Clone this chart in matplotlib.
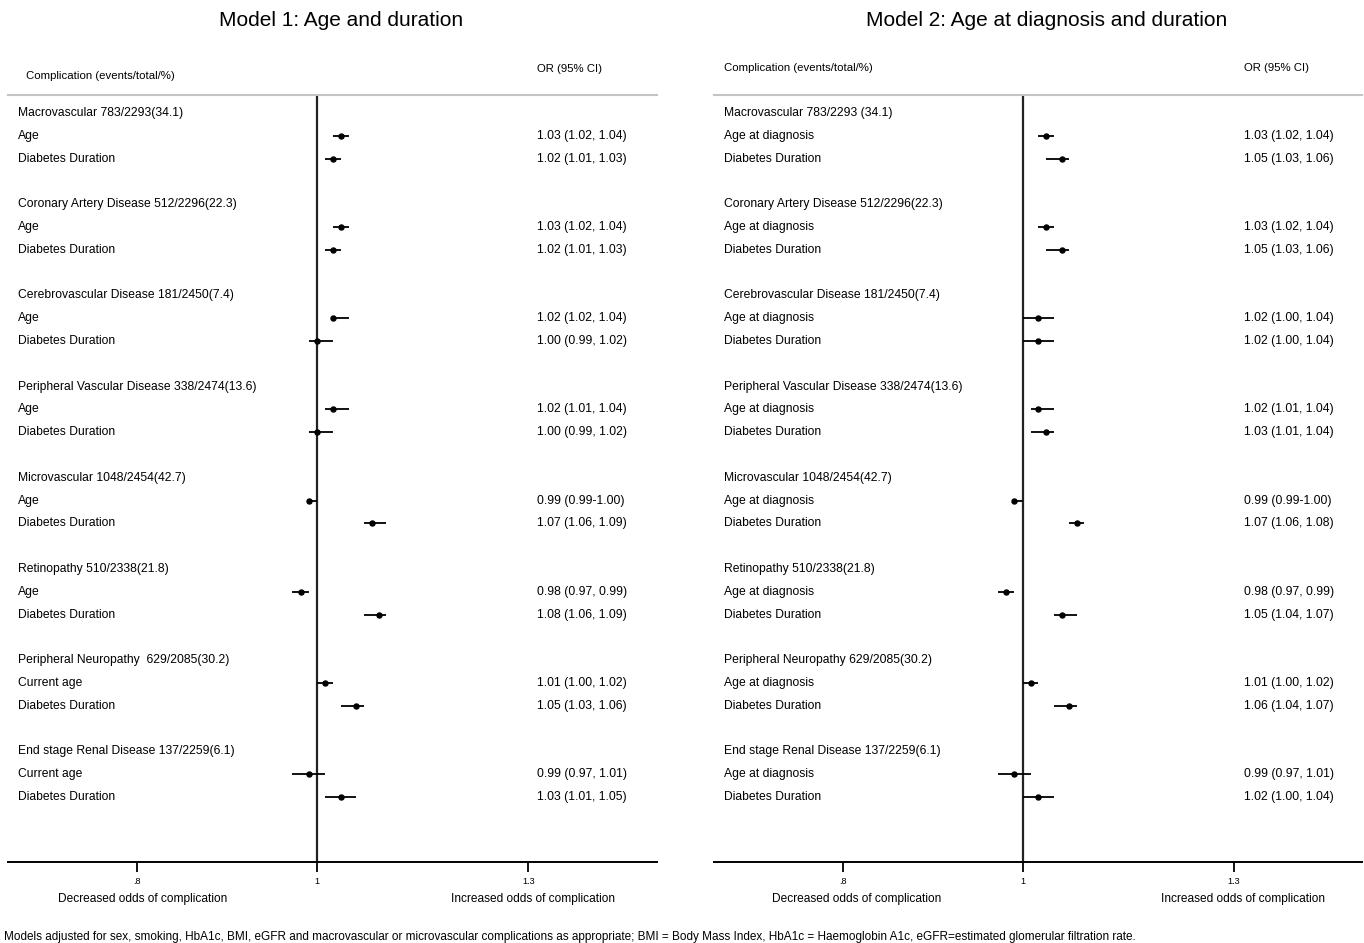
import matplotlib
matplotlib.use("Agg")
import matplotlib.pyplot as plt
import matplotlib.transforms as mtransforms
from matplotlib.ticker import NullLocator, FixedLocator, FixedFormatter

plt.rcParams['font.family'] = ['Liberation Sans', 'DejaVu Sans']

# ---------------- data ----------------
titles = ["Model 1: Age and duration", "Model 2: Age at diagnosis and duration"]

groups_m1 = [
    "Macrovascular 783/2293(34.1)",
    "Coronary Artery Disease 512/2296(22.3)",
    "Cerebrovascular Disease 181/2450(7.4)",
    "Peripheral Vascular Disease 338/2474(13.6)",
    "Microvascular 1048/2454(42.7)",
    "Retinopathy 510/2338(21.8)",
    "Peripheral Neuropathy  629/2085(30.2)",
    "End stage Renal Disease 137/2259(6.1)",
]
groups_m2 = [
    "Macrovascular 783/2293 (34.1)",
    "Coronary Artery Disease 512/2296(22.3)",
    "Cerebrovascular Disease 181/2450(7.4)",
    "Peripheral Vascular Disease 338/2474(13.6)",
    "Microvascular 1048/2454(42.7)",
    "Retinopathy 510/2338(21.8)",
    "Peripheral Neuropathy 629/2085(30.2)",
    "End stage Renal Disease 137/2259(6.1)",
]

# first / second variable label within each group
var1_m1 = ["Age"] * 6 + ["Current age"] * 2
var2_m1 = ["Diabetes Duration"] * 8
var1_m2 = ["Age at diagnosis"] * 8
var2_m2 = ["Diabetes Duration"] * 8

# Model 1 odds ratios (estimate, lower, upper)
m1_v1_or = [1.03, 1.03, 1.02, 1.02, 0.99, 0.98, 1.01, 0.99]
m1_v1_lo = [1.02, 1.02, 1.02, 1.01, 0.99, 0.97, 1.00, 0.97]
m1_v1_hi = [1.04, 1.04, 1.04, 1.04, 1.00, 0.99, 1.02, 1.01]
m1_v2_or = [1.02, 1.02, 1.00, 1.00, 1.07, 1.08, 1.05, 1.03]
m1_v2_lo = [1.01, 1.01, 0.99, 0.99, 1.06, 1.06, 1.03, 1.01]
m1_v2_hi = [1.03, 1.03, 1.02, 1.02, 1.09, 1.09, 1.06, 1.05]

# Model 2 odds ratios
m2_v1_or = [1.03, 1.03, 1.02, 1.02, 0.99, 0.98, 1.01, 0.99]
m2_v1_lo = [1.02, 1.02, 1.00, 1.01, 0.99, 0.97, 1.00, 0.97]
m2_v1_hi = [1.04, 1.04, 1.04, 1.04, 1.00, 0.99, 1.02, 1.01]
m2_v2_or = [1.05, 1.05, 1.02, 1.03, 1.07, 1.05, 1.06, 1.02]
m2_v2_lo = [1.03, 1.03, 1.00, 1.01, 1.06, 1.04, 1.04, 1.00]
m2_v2_hi = [1.06, 1.06, 1.04, 1.04, 1.08, 1.07, 1.07, 1.04]

# rows written as "x (a-b)" instead of "x (a, b)"
dash_rows = {4}

tick_vals = [0.8, 1.0, 1.3]
tick_labels = [".8", "1", "1.3"]

footnote = ("Models adjusted for sex, smoking, HbA1c, BMI, eGFR and macrovascular or "
            "microvascular complications as appropriate; BMI = Body Mass Index, "
            "HbA1c = Haemoglobin A1c, eGFR=estimated glomerular filtration rate.")

# ---------------- layout helpers ----------------
W, H = 1364, 943
fig = plt.figure(figsize=(W / 100, H / 100), dpi=100)
fig.patch.set_facecolor("white")


def fx(px):
    return px / W


def fy(py):
    return 1 - py / H


ROW0, PITCH = 113.0, 22.8        # pixel y of first heading and row pitch
TOP_PX, AXIS_PX = 95.0, 862.0


def row_y(py):
    return (py - ROW0) / PITCH


def fmt(o, lo, hi, dash):
    if dash:
        return f"{o:.2f} ({lo:.2f}-{hi:.2f})"
    return f"{o:.2f} ({lo:.2f}, {hi:.2f})"


def panel(left_px, right_px, title, title_cx, groups, v1, v2,
          a_or, a_lo, a_hi, b_or, b_lo, b_hi,
          label_fx, or_fx, head_fx, head_py, orhead_py, dec_cx, inc_cx):
    ax = fig.add_axes([fx(left_px), fy(AXIS_PX), fx(right_px - left_px),
                       (AXIS_PX - TOP_PX) / H])
    ax.set_xscale("log")
    ax.set_xlim(0.6815, 1.5248)
    ax.set_ylim(row_y(AXIS_PX), row_y(TOP_PX))
    ax.xaxis.set_minor_locator(NullLocator())
    ax.xaxis.set_major_locator(FixedLocator(tick_vals))
    ax.xaxis.set_major_formatter(FixedFormatter(tick_labels))
    ax.set_yticks([])
    for s in ("left", "right"):
        ax.spines[s].set_visible(False)
    ax.spines["top"].set_color("#c4c4c4")
    ax.spines["top"].set_linewidth(1.5)
    ax.spines["bottom"].set_linewidth(1.4)
    ax.tick_params(axis="x", length=7, width=1.3, labelsize=6.6, pad=4)

    ax.axvline(1.0, color="#222222", lw=1.6, zorder=1)

    tr = mtransforms.blended_transform_factory(ax.transAxes, ax.transData)
    fs = 8.7
    for g, name in enumerate(groups):
        base = 4 * g
        ax.text(label_fx, base, name, transform=tr, fontsize=fs,
                va="center", ha="left")
        for k, (lab, o, lo, hi) in enumerate([
                (v1[g], a_or[g], a_lo[g], a_hi[g]),
                (v2[g], b_or[g], b_lo[g], b_hi[g])]):
            y = base + 1 + k
            ax.text(label_fx, y, lab, transform=tr, fontsize=fs,
                    va="center", ha="left")
            ax.text(or_fx, y, fmt(o, lo, hi, g in dash_rows and k == 0),
                    transform=tr, fontsize=fs, va="center", ha="left")
            ax.plot([lo, hi], [y, y], color="black", lw=1.3,
                    solid_capstyle="butt", zorder=3)
            ax.plot([o], [y], marker="o", ms=3.6, color="black", zorder=4)

    # column headers
    fig.text(fx(left_px) + head_fx * fx(right_px - left_px), fy(head_py),
             "Complication (events/total/%)", fontsize=8.2,
             ha="left", va="center")
    fig.text(fx(left_px) + or_fx * fx(right_px - left_px), fy(orhead_py),
             "OR (95% CI)", fontsize=8.2, ha="left", va="center")

    # panel title
    fig.text(fx(title_cx), fy(20), title, fontsize=15, ha="center",
             va="center")

    # direction captions
    fig.text(fx(dec_cx), fy(899), "Decreased odds of complication",
             fontsize=8.6, ha="center", va="center")
    fig.text(fx(inc_cx), fy(899), "Increased odds of complication",
             fontsize=8.6, ha="center", va="center")
    return ax


panel(8, 657, titles[0], 341.5, groups_m1, var1_m1, var2_m1,
      m1_v1_or, m1_v1_lo, m1_v1_hi, m1_v2_or, m1_v2_lo, m1_v2_hi,
      label_fx=0.0154, or_fx=0.815, head_fx=0.0277, head_py=76,
      orhead_py=69, dec_cx=143, inc_cx=533)

panel(714, 1362, titles[1], 1047, groups_m2, var1_m2, var2_m2,
      m2_v1_or, m2_v1_lo, m2_v1_hi, m2_v2_or, m2_v2_lo, m2_v2_hi,
      label_fx=0.0154, or_fx=0.818, head_fx=0.0154, head_py=68,
      orhead_py=68, dec_cx=857, inc_cx=1243)

fig.text(fx(4), fy(937), footnote, fontsize=8.45, ha="left", va="center")

fig.savefig("out.png", dpi=100)
